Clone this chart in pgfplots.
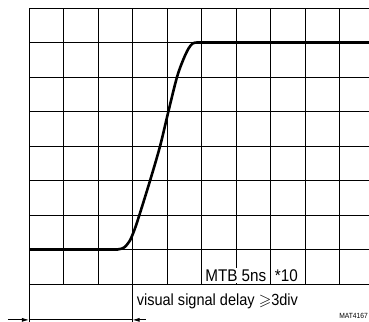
\documentclass[border=0pt]{standalone}
\usepackage{pgfplots}
\pgfplotsset{compat=1.18}
\usetikzlibrary{arrows.meta}
\usepackage{amssymb}
\usepackage{fontspec}
\setmainfont{Liberation Sans}
\newfontfamily\narrowfont[FakeStretch=0.9]{Liberation Sans}
\begin{document}
\begin{tikzpicture}[x=1bp,y=1bp]
\useasboundingbox (0,0) rectangle (369,322);
\begin{axis}[
  at={(29bp,38bp)}, anchor=south west,
  scale only axis, width=340bp, height=276bp,
  xmin=0, xmax=9.855, ymin=0, ymax=8,
  xtick={0,...,9}, ytick={0,...,8},
  xticklabels={}, yticklabels={},
  major tick length=0pt,
  grid=major,
  major grid style={black, line width=0.8pt},
  axis line style={draw=none},
  clip=false,
]
\addplot[black, line width=2.6pt] coordinates {(0,1) (2.58,1)};
\addplot[black, line width=2.6pt, smooth, tension=0.5] coordinates {
 (2.5,1) (2.62,1.01) (2.76,1.06) (2.92,1.25) (3.06,1.58) (3.20,2.0)
 (3.51,3.0) (3.80,4.0) (4.04,5.0) (4.29,6.0)
 (4.47,6.5) (4.62,6.82) (4.74,6.97) (4.86,7.0) (4.95,7.0)};
\addplot[black, line width=2.6pt] coordinates {(4.9,7) (9.855,7)};
% annotations below grid
\draw[black, line width=0.8pt] (axis cs:0,0) -- (axis cs:0,-1.15);
\draw[black, line width=0.8pt] (axis cs:3,0) -- (axis cs:3,-1.15);
\draw[black, line width=0.8pt] (axis cs:0,-1.04) -- (axis cs:3,-1.04);
\draw[black, line width=0.8pt, -{Latex[length=7bp,width=4bp]}] (axis cs:-0.61,-1.04) -- (axis cs:0,-1.04);
\draw[black, line width=0.8pt, -{Latex[length=7bp,width=4bp]}] (axis cs:3.38,-1.04) -- (axis cs:3,-1.04);
\node[anchor=base west, inner sep=0pt, font=\narrowfont\fontsize{16.2}{18}\selectfont] at (axis cs:3.12,-0.63) {visual signal delay $\geqslant$3div};
\node[anchor=base west, fill=white, inner xsep=1.2pt, inner ysep=1.5pt, font=\narrowfont\fontsize{17}{18}\selectfont] at (axis cs:5.07,0.07) {MTB 5ns};
\node[anchor=base west, inner sep=0pt, font=\narrowfont\fontsize{17}{18}\selectfont] at (axis cs:7.12,0.07) {*10};
\node[anchor=base east, inner sep=0pt, font=\narrowfont\fontsize{7.5}{9}\selectfont] at (axis cs:9.83,-1.0) {MAT4167};
\end{axis}
\end{tikzpicture}
\end{document}
